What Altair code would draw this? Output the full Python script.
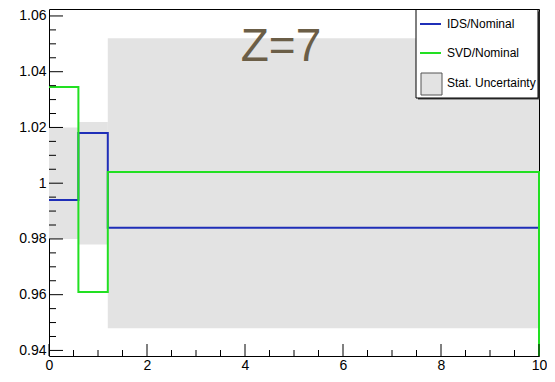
import altair as alt
import pandas as pd

# ---- data ----
edges = [0.0, 0.6, 1.2, 10.0]
ids_ratio = [0.994, 1.018, 0.984]
svd_ratio = [1.0345, 0.961, 1.004]
unc_lo = [0.980, 0.978, 0.948]
unc_hi = [1.020, 1.022, 1.052]

x_major = [0, 2, 4, 6, 8, 10]
x_minor = [v * 0.5 for v in range(0, 21) if v % 4 != 0]
y_major = [0.94, 0.96, 0.98, 1.00, 1.02, 1.04, 1.06]
y_minor = [round(0.94 + 0.005 * k, 3) for k in range(0, 25) if k % 4 != 0]

Y_MIN, Y_MAX = 0.938, 1.0625
W, H = 490, 347
FONT = "Liberation Sans"

# band table
bands = pd.DataFrame({"lo_x": edges[:-1], "hi_x": edges[1:], "lo": unc_lo, "hi": unc_hi})

# step-line table
rows = []
for name, vals in [("IDS/Nominal", ids_ratio), ("SVD/Nominal", svd_ratio)]:
    k = 0
    for i, v in enumerate(vals):
        rows.append({"s": name, "o": k, "x": edges[i], "y": v}); k += 1
        rows.append({"s": name, "o": k, "x": edges[i + 1], "y": v}); k += 1
    rows.append({"s": name, "o": k, "x": edges[-1], "y": Y_MIN})
steps = pd.DataFrame(rows)

xscale = alt.Scale(domain=[0, 10], nice=False, zero=False)
yscale = alt.Scale(domain=[Y_MIN, Y_MAX], nice=False, zero=False)
x_axis = alt.Axis(title=None, values=x_major, ticks=False, domain=False, grid=False,
                  labelFont=FONT, labelFontSize=14, labelColor="black", labelPadding=2,
                  labelFlush=False, labelOverlap=False)
y_axis = alt.Axis(title=None, values=y_major, ticks=False, domain=False, grid=False,
                  labelFont=FONT, labelFontSize=14, labelColor="black", labelPadding=3,
                  labelExpr="format(datum.value, '.2~f')", labelOverlap=False)

band_layer = alt.Chart(bands).mark_rect(color="#e3e3e3").encode(
    x=alt.X("lo_x:Q", scale=xscale, axis=x_axis),
    x2="hi_x:Q",
    y=alt.Y("lo:Q", scale=yscale, axis=y_axis),
    y2="hi:Q",
)

def step_layer(name, color):
    return alt.Chart(steps[steps.s == name]).mark_line(color=color, strokeWidth=2).encode(
        x=alt.X("x:Q", scale=xscale, axis=x_axis),
        y=alt.Y("y:Q", scale=yscale, axis=y_axis),
        order="o:Q",
    )

ids_layer = step_layer("IDS/Nominal", "#1f2fb8")
svd_layer = step_layer("SVD/Nominal", "#22e022")

def yticks(vals, length):
    return alt.Chart(pd.DataFrame({"t": vals})).mark_rule(color="black", strokeWidth=1).encode(
        y=alt.Y("t:Q", scale=yscale, axis=y_axis),
        x=alt.value(0), x2=alt.value(length),
    )

def xticks(vals, length):
    return alt.Chart(pd.DataFrame({"t": vals})).mark_rule(color="black", strokeWidth=1).encode(
        x=alt.X("t:Q", scale=xscale, axis=x_axis),
        y=alt.value(H), y2=alt.value(H - length),
    )

one = pd.DataFrame({"a": [0]})

title_text = alt.Chart(one).mark_text(font=FONT, fontSize=46, color="#6b5e47",
                                      align="center", baseline="alphabetic").encode(
    x=alt.value(232), y=alt.value(52), text=alt.value("Z=7"))

# legend (ROOT style box)
LX0, LX1, LY0, LY1 = W - 123, W - 1, 0.5, 89
leg_shadow = alt.Chart(one).mark_rect(color="#444444").encode(
    x=alt.value(LX0 + 2), x2=alt.value(LX1 + 1.5), y=alt.value(LY0 + 2), y2=alt.value(LY1 + 1.5))
leg_box = alt.Chart(one).mark_rect(fill="white", stroke="black", strokeWidth=1).encode(
    x=alt.value(LX0), x2=alt.value(LX1), y=alt.value(LY0), y2=alt.value(LY1))
leg_ids = alt.Chart(one).mark_rule(color="#1f2fb8", strokeWidth=2).encode(
    x=alt.value(LX0 + 4), x2=alt.value(LX0 + 25), y=alt.value(15))
leg_svd = alt.Chart(one).mark_rule(color="#22e022", strokeWidth=2).encode(
    x=alt.value(LX0 + 4), x2=alt.value(LX0 + 25), y=alt.value(44))
leg_unc = alt.Chart(one).mark_rect(fill="#e3e3e3", stroke="#555555", strokeWidth=1).encode(
    x=alt.value(LX0 + 5), x2=alt.value(LX0 + 26), y=alt.value(64), y2=alt.value(86))

def leg_text(txt, y):
    return alt.Chart(one).mark_text(font=FONT, fontSize=12, color="black",
                                    align="left", baseline="middle").encode(
        x=alt.value(LX0 + 31), y=alt.value(y), text=alt.value(txt))

chart = alt.layer(
    band_layer, ids_layer, svd_layer,
    yticks(y_major, 14), yticks(y_minor, 7),
    xticks(x_major, 12), xticks(x_minor, 6),
    title_text,
    leg_shadow, leg_box, leg_ids, leg_svd, leg_unc,
    leg_text("IDS/Nominal", 15), leg_text("SVD/Nominal", 44), leg_text("Stat. Uncertainty", 74),
).properties(
    width=W, height=H,
    autosize=alt.AutoSizeParams(type="none"),
    padding={"left": 41, "top": 1, "right": 8, "bottom": 18},
    background="white",
).configure_view(stroke="black", strokeWidth=1)

chart.save("out.html", embed_options={"renderer": "svg", "actions": False})
